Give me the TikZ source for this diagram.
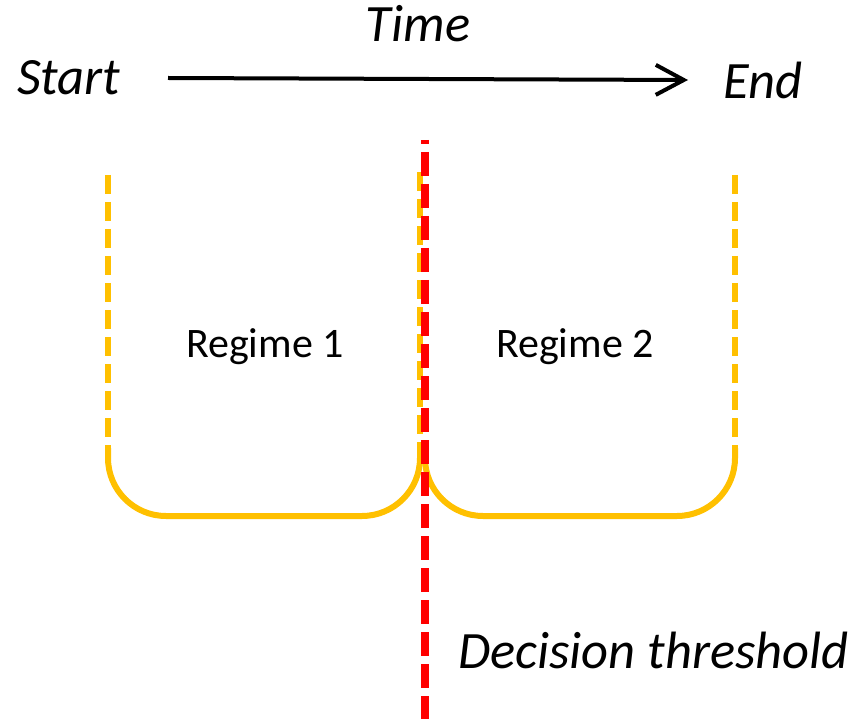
\documentclass[tikz,border=0pt]{standalone}
\usepackage{fontspec}
\setmainfont{Carlito}
\definecolor{regimegold}{RGB}{255, 192, 0}
\definecolor{threshred}{RGB}{255, 0, 0}
\usetikzlibrary{arrows.meta}

\begin{document}
\begin{tikzpicture}[x=1pt, y=-1pt,
  biglabel/.style={inner sep=0pt, font=\fontsize{52.5}{63}\selectfont\itshape},
  regimelabel/.style={inner sep=0pt, font=\fontsize{42}{50}\selectfont},
  wall/.style={regimegold, line width=6pt, dash pattern=on 19pt off 8pt},
  basin/.style={regimegold, line width=6pt, rounded corners=58pt},
  threshline/.style={threshred, line width=8pt, dash pattern=on 24pt off 8pt, dash phase=20pt}]
  \useasboundingbox (0,0) rectangle (859,719);

  % time axis
  \node[biglabel, anchor=base west] (start) at (17,95) {Start};
  \node[biglabel, anchor=base] (time) at (418,42) {Time};
  \node[biglabel, anchor=base west] (end) at (723,99) {End};
  \coordinate (tstart) at (168,78);
  \coordinate (tend) at (688,80);
  \draw[line width=4pt, -{Straight Barb[length=28pt, width=30pt]}] (tstart) -- (tend);

  % two regimes, shared wall in the middle
  \coordinate (r1top) at (108,175);
  \coordinate (r1low) at (108,448);
  \coordinate (midtop) at (420,172);
  \coordinate (midlow) at (420,448);
  \coordinate (r2low) at (425,448);
  \coordinate (r2top) at (735,175);
  \coordinate (r2rlow) at (735,448);
  \draw[wall] (r1top) -- (r1low);
  \draw[wall] (midtop) -- (midlow);
  \draw[wall] (r2top) -- (r2rlow);
  \draw[basin] (r1low) -- (108,516) -- (420,516) -- (midlow);
  \draw[basin] (r2low) -- (425,516) -- (735,516) -- (r2rlow);
  \node[regimelabel, anchor=base] (regone) at (265,357) {Regime 1};
  \node[regimelabel, anchor=base] (regtwo) at (575,357) {Regime 2};

  % threshold
  \coordinate (thtop) at (425,140);
  \coordinate (thbot) at (425,719);
  \draw[threshline] (thtop) -- (thbot);
  \node[biglabel, anchor=base west] (thlabel) at (458,668) {Decision threshold};
\end{tikzpicture}
\end{document}
